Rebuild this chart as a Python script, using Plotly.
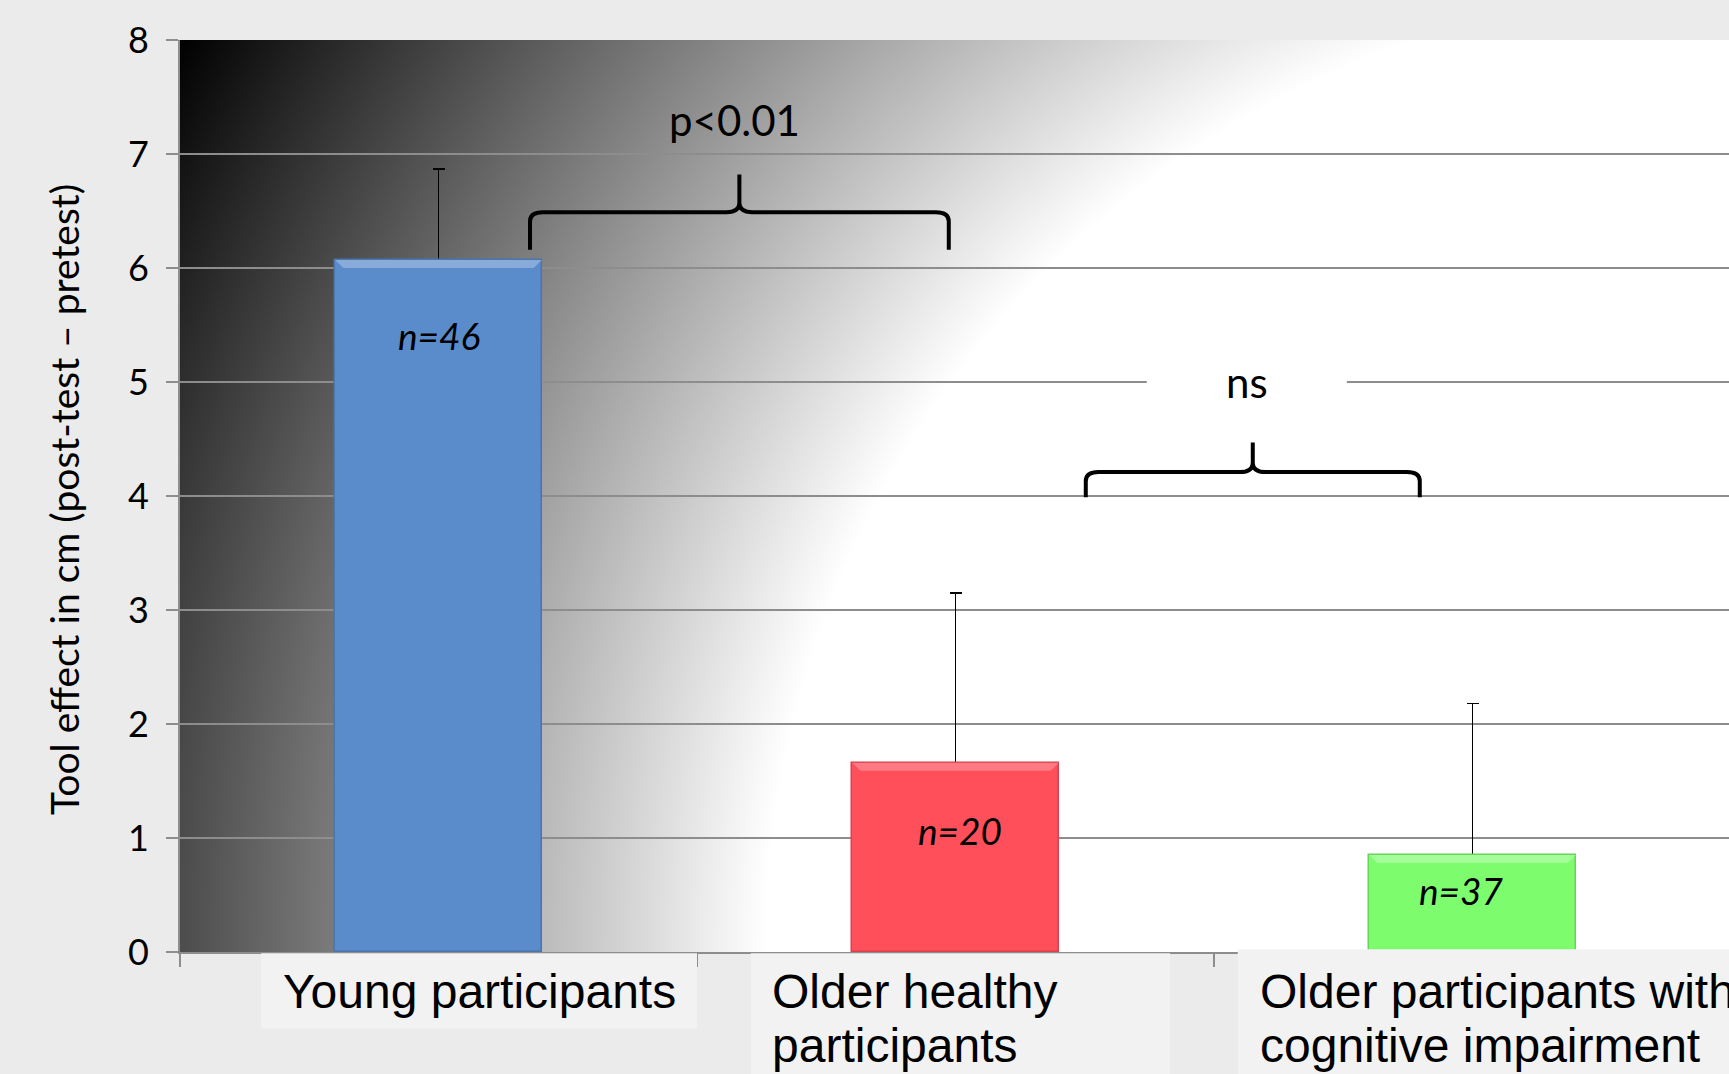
import base64
import plotly.graph_objects as go

# ---------------- data ----------------
categories = ["Young participants", "Older healthy participants",
              "Older participants with cognitive impairment"]
tick_labels = ["Young participants", "Older healthy<br>participants",
               "Older participants with<br>cognitive impairment"]
means = [6.07, 1.66, 0.85]
err_plus = [0.80, 1.49, 1.33]
n_labels = ["n=46", "n=20", "n=37"]
y_ticks = [0, 1, 2, 3, 4, 5, 6, 7, 8]
sig_labels = ["p<0.01", "ns"]

# ---------------- style ----------------
bar_colors = ["#5a8bcb", "#fe4f5a", "#7dfd6e"]
bar_edges = ["#4a75ad", "#d7434c", "#67d55a"]
bar_tops = ["rgba(255,255,255,0.28)", "rgba(255,255,255,0.25)", "rgba(255,255,255,0.3)"]
PAPER = "#ebebeb"
GRID = "#8d8d8d"
W, H = 1729, 1074
ML, MT, MB = 180, 40, 122
plot_w, plot_h = W - ML, H - MT - MB
cat_px = 517.0
x_end = -0.5 + plot_w / cat_px
BAR_W = 0.4

# radial gradient background of the plot area (white at bottom-right, black at top-left)
svg = (f"<svg xmlns='http://www.w3.org/2000/svg' width='{plot_w}' height='{plot_h}' "
       f"viewBox='0 0 {plot_w} {plot_h}' preserveAspectRatio='none'>"
       f"<defs><radialGradient id='g' gradientUnits='userSpaceOnUse' cx='{plot_w + 2}' cy='{plot_h}' r='1800'>"
       "<stop offset='0' stop-color='#ffffff'/><stop offset='0.536' stop-color='#ffffff'/>"
       "<stop offset='1' stop-color='#000000'/></radialGradient></defs>"
       f"<rect x='0' y='0' width='{plot_w}' height='{plot_h}' fill='url(#g)'/></svg>")
svg_uri = "data:image/svg+xml;base64," + base64.b64encode(svg.encode()).decode()

xs = list(range(len(categories)))

fig = go.Figure()
# error bars (drawn underneath the bars so only the upper whisker shows)
fig.add_trace(go.Bar(
    x=xs, y=means, width=BAR_W,
    marker=dict(color="rgba(0,0,0,0)", line=dict(width=0)),
    error_y=dict(type="data", symmetric=False, array=err_plus,
                 arrayminus=[0] * len(means), color="black", thickness=1.6, width=6),
    hoverinfo="skip", showlegend=False))
fig.add_trace(go.Bar(
    x=xs, y=means, width=BAR_W,
    marker=dict(color=bar_colors, line=dict(color=bar_edges, width=1.5)),
    hovertext=categories, showlegend=False))

shapes = []
annotations = []

# bevel highlight on bar tops
top_band = 8 / (plot_h / 8)
for i, m in enumerate(means):
    shapes.append(dict(type="path", xref="x", yref="y", layer="above", line=dict(width=0),
                       fillcolor=bar_tops[i],
                       path=(f"M {xs[i] - BAR_W / 2},{m} L {xs[i] + BAR_W / 2},{m} "
                             f"L {xs[i] + BAR_W / 2 - 0.016},{m - top_band} "
                             f"L {xs[i] - BAR_W / 2 + 0.016},{m - top_band} Z")))

# n labels inside bars
n_shift_y = [-75, -68, -35]
n_shift_x = [0, 4, -11]
for i, lab in enumerate(n_labels):
    annotations.append(dict(x=xs[i], y=means[i], xref="x", yref="y", text=f"<i>{lab}</i>",
                            showarrow=False, yshift=n_shift_y[i], xshift=n_shift_x[i],
                            font=dict(family="Lato, Open Sans, sans-serif", size=37, color="black")))

# category label boxes and texts
box_x = [(-0.343, 0.5), (0.604, 1.415), (1.546, 2.7)]
box_y = [(-0.0015, -0.084), (-0.0015, -0.2), (0.003, -0.2)]
text_left = [-0.305, 0.641, 1.585]
for i, lab in enumerate(tick_labels):
    shapes.append(dict(type="rect", xref="x", yref="paper", x0=box_x[i][0], x1=box_x[i][1],
                       y0=box_y[i][1], y1=box_y[i][0], fillcolor="#f2f2f2",
                       line=dict(width=0), layer="above"))
    for j, line in enumerate(lab.split("<br>")):
        cy = 991 + 54 * j
        annotations.append(dict(x=text_left[i], y=(MT + plot_h - cy) / plot_h, xref="x", yref="paper",
                                text=line, showarrow=False, xanchor="left", yanchor="middle",
                                font=dict(family="Liberation Sans, Arial, sans-serif", size=48,
                                          color="black")))

# significance braces
def brace_path(x0, x1, ye, yb, yt, rx, ry):
    xm = (x0 + x1) / 2
    return (f"M {x0},{ye} L {x0},{yb - ry} Q {x0},{yb} {x0 + rx},{yb} "
            f"L {xm - rx},{yb} Q {xm},{yb} {xm},{yb + ry} L {xm},{yt} "
            f"M {xm},{yt} L {xm},{yb + ry} Q {xm},{yb} {xm + rx},{yb} "
            f"L {x1 - rx},{yb} Q {x1},{yb} {x1},{yb - ry} L {x1},{ye}")

braces = [(0.177, 0.987, 6.16, 6.49, 6.82), (1.252, 1.898, 3.99, 4.21, 4.47)]
for b in braces:
    shapes.append(dict(type="path", xref="x", yref="y", path=brace_path(*b, 0.025, 0.08),
                       line=dict(color="black", width=4), layer="above"))

# white box behind "ns"
shapes.append(dict(type="rect", xref="x", yref="y", x0=1.370, x1=1.757, y0=4.85, y1=5.15,
                   fillcolor="white", line=dict(width=0), layer="above"))

sig_pos = [(0.573, 7.30), (1.564, 5.0)]
for lab, (sx, sy) in zip(sig_labels, sig_pos):
    annotations.append(dict(x=sx, y=sy, xref="x", yref="y", text=lab, showarrow=False,
                            font=dict(family="Lato, Open Sans, sans-serif", size=42, color="black")))

# y-axis title
annotations.append(dict(x=(64 - ML) / plot_w, y=(MT + plot_h - 500) / plot_h, xref="paper", yref="paper",
                        xanchor="center", yanchor="middle",
                        text="Tool effect in cm (post-test – pretest)", textangle=-90, showarrow=False,
                        font=dict(family="Lato, Open Sans, sans-serif", size=39, color="black")))

fig.update_layout(
    width=W, height=H,
    margin=dict(l=ML, r=0, t=MT, b=MB, pad=0),
    paper_bgcolor=PAPER, plot_bgcolor="rgba(0,0,0,0)",
    barmode="overlay", bargap=0,
    shapes=shapes, annotations=annotations,
    images=[dict(source=svg_uri, xref="paper", yref="paper", x=0, y=1, sizex=1, sizey=1,
                 xanchor="left", yanchor="top", sizing="stretch", layer="below")],
    xaxis=dict(range=[-0.5, x_end], showgrid=False, zeroline=False, showline=True,
               linecolor=GRID, linewidth=2, ticks="outside", ticklen=13, tickwidth=1.5,
               tickcolor=GRID, tickvals=[i - 0.5 for i in range(len(categories) + 1)],
               showticklabels=False, fixedrange=True),
    yaxis=dict(range=[0, 8], tickvals=y_ticks, showgrid=True, gridcolor=GRID, gridwidth=2,
               zeroline=False, showline=True, linecolor=GRID, linewidth=2,
               ticks="outside", ticklen=12, tickwidth=2, tickcolor=GRID,
               tickfont=dict(family="Lato, Open Sans, sans-serif", size=36, color="black"),
               ticklabelstandoff=10, fixedrange=True),
)

fig.write_html("out.html", config={"displayModeBar": False},
               post_script="document.body.style.margin='0';document.body.style.overflow='hidden';")
